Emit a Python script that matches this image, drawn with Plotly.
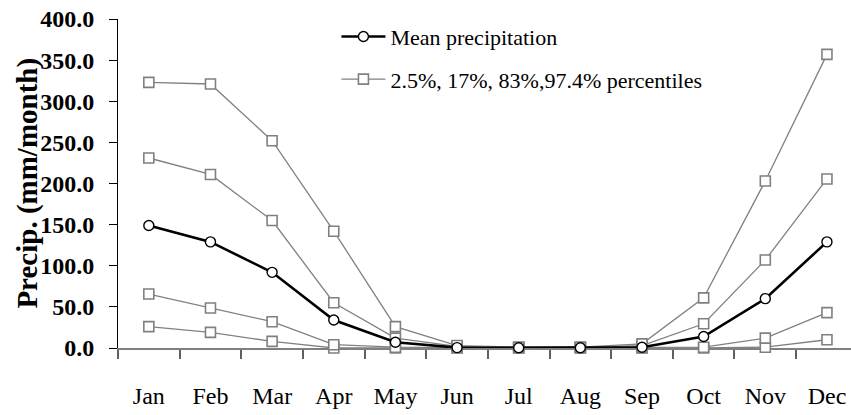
import plotly.graph_objects as go

months = ["Jan", "Feb", "Mar", "Apr", "May", "Jun", "Jul", "Aug", "Sep", "Oct", "Nov", "Dec"]
mean_precip = [149, 129, 92, 34, 7, 0.5, 0.3, 0.3, 1, 14, 60, 129]
p2_5 = [26, 19, 8, 0, 0, 0, 0, 0, 0, 0, 1, 10]
p17 = [65.6, 48.6, 32, 4, 1, 0.5, 0.5, 0.5, 0.5, 1, 12, 43]
p83 = [231, 211, 155, 55, 12, 2, 1, 1, 3, 29.5, 107, 205.5]
p97_4 = [323, 321, 252, 142, 26, 3, 1, 1, 5, 61, 203, 357]
y_ticks = [0, 50, 100, 150, 200, 250, 300, 350, 400]

GRAY = "#808080"
SERIF = "Liberation Serif"

fig = go.Figure()

pct_series = [("2.5%, 17%, 83%,97.4% percentiles", p2_5, True),
              ("17%", p17, False),
              ("83%", p83, False),
              ("97.4%", p97_4, False)]
for name, vals, show in pct_series:
    fig.add_trace(go.Scatter(
        x=months, y=vals, name=name, mode="lines+markers",
        line=dict(color=GRAY, width=1.3),
        marker=dict(symbol="square", size=10, color="white",
                    line=dict(color=GRAY, width=1.6)),
        cliponaxis=False, showlegend=show, legendgroup="pct", legendrank=2,
    ))

fig.add_trace(go.Scatter(
    x=months, y=mean_precip, name="Mean precipitation", mode="lines+markers",
    line=dict(color="black", width=2.6),
    marker=dict(symbol="circle", size=10, color="white",
                line=dict(color="black", width=1.4)),
    cliponaxis=False, legendgroup="mean", legendrank=1,
))

fig.update_layout(
    width=851, height=415,
    margin=dict(l=118, r=0, t=19, b=67),
    plot_bgcolor="white", paper_bgcolor="white",
    font=dict(family=SERIF, color="black"),
    showlegend=True,
    legend=dict(x=0.298, y=1.01, xanchor="left", yanchor="top",
                font=dict(size=22, family=SERIF), tracegroupgap=11,
                itemwidth=44,
                bgcolor="rgba(0,0,0,0)", traceorder="grouped"),
    xaxis=dict(
        type="category", range=[-0.5, 11.39],
        showline=True, linecolor=GRAY, linewidth=2,
        ticks="outside", ticklen=9, tickcolor="#606060", tickwidth=1.5,
        tickson="boundaries", showgrid=False, zeroline=False,
        tickfont=dict(size=24, family=SERIF), ticklabelstandoff=25,
        layer="below traces",
    ),
    yaxis=dict(
        range=[0, 400], tickvals=y_ticks, tickformat=".1f",
        showline=True, linecolor="black", linewidth=1,
        ticks="outside", ticklen=8, tickcolor="black", tickwidth=1,
        showgrid=False, zeroline=False,
        tickfont=dict(size=24, family=SERIF, weight="bold"),
        ticklabelstandoff=10,
        layer="below traces",
    ),
    annotations=[dict(
        text="<b>Precip. (mm/month)</b>", textangle=-90,
        xref="paper", yref="paper", x=-0.124, y=0.5,
        xanchor="center", yanchor="middle", showarrow=False,
        font=dict(size=29, family=SERIF, color="black"),
    )],
)

fig.write_html("out.html")
